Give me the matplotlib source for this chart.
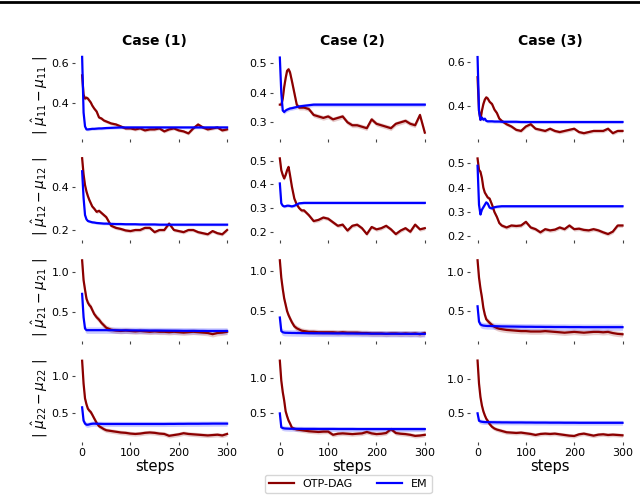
import numpy as np
import matplotlib
matplotlib.use("Agg")
import matplotlib.pyplot as plt
from matplotlib.lines import Line2D

STEPS = [0, 3, 6, 9, 12, 15, 18, 21, 25, 30, 35, 40, 45, 50, 60, 70, 80, 90, 100,
         110, 120, 130, 140, 150, 160, 170, 180, 190, 200, 210, 220, 230, 240, 250,
         260, 270, 280, 290, 300]

CASES = ["Case (1)", "Case (2)", "Case (3)"]
YLABELS = [r"$|\ \hat{\mu}_{11} - \mu_{11}\ |$", r"$|\ \hat{\mu}_{12} - \mu_{12}\ |$",
           r"$|\ \hat{\mu}_{21} - \mu_{21}\ |$", r"$|\ \hat{\mu}_{22} - \mu_{22}\ |$"]
XTICKS = [0, 100, 200, 300]
YTICKS = [[[0.4, 0.6], [0.3, 0.4, 0.5], [0.4, 0.6]],
          [[0.2, 0.4], [0.2, 0.3, 0.4, 0.5], [0.2, 0.3, 0.4, 0.5]],
          [[0.5, 1.0], [0.5, 1.0], [0.5, 1.0]],
          [[0.5, 1.0], [0.5, 1.0], [0.5, 1.0]]]

# OTP-DAG series (rows = parameter, cols = case)
otp_11_c1 = [0.537, 0.44, 0.42, 0.425, 0.42, 0.41, 0.40, 0.385, 0.37, 0.355, 0.325, 0.32, 0.31, 0.305,
             0.295, 0.29, 0.28, 0.27, 0.27, 0.265, 0.27, 0.26, 0.265, 0.265, 0.27, 0.255, 0.265, 0.27,
             0.26, 0.255, 0.245, 0.27, 0.29, 0.275, 0.265, 0.27, 0.275, 0.26, 0.265]
otp_11_c2 = [0.36, 0.36, 0.38, 0.42, 0.45, 0.475, 0.48, 0.47, 0.44, 0.40, 0.36, 0.35, 0.35, 0.35,
             0.345, 0.325, 0.32, 0.315, 0.32, 0.31, 0.315, 0.32, 0.30, 0.29, 0.29, 0.285, 0.28, 0.31,
             0.295, 0.29, 0.285, 0.28, 0.295, 0.30, 0.305, 0.295, 0.29, 0.325, 0.265]
otp_11_c3 = [0.53, 0.38, 0.34, 0.38, 0.41, 0.43, 0.44, 0.435, 0.42, 0.41, 0.385, 0.37, 0.345, 0.335,
             0.32, 0.31, 0.295, 0.29, 0.31, 0.32, 0.30, 0.295, 0.29, 0.30, 0.29, 0.285, 0.29, 0.295,
             0.30, 0.285, 0.28, 0.285, 0.29, 0.29, 0.29, 0.30, 0.28, 0.29, 0.29]
otp_12_c1 = [0.536, 0.46, 0.41, 0.38, 0.358, 0.34, 0.325, 0.31, 0.30, 0.285, 0.29, 0.28, 0.27, 0.26,
             0.22, 0.21, 0.205, 0.198, 0.195, 0.20, 0.20, 0.21, 0.21, 0.19, 0.20, 0.20, 0.23, 0.20,
             0.195, 0.19, 0.20, 0.20, 0.19, 0.185, 0.18, 0.195, 0.185, 0.18, 0.20]
otp_12_c2 = [0.51, 0.46, 0.44, 0.425, 0.44, 0.46, 0.474, 0.44, 0.39, 0.34, 0.315, 0.30, 0.29, 0.29,
             0.27, 0.245, 0.25, 0.26, 0.255, 0.24, 0.225, 0.23, 0.205, 0.225, 0.23, 0.215, 0.19, 0.22,
             0.21, 0.215, 0.225, 0.21, 0.19, 0.205, 0.215, 0.20, 0.23, 0.21, 0.215]
otp_12_c3 = [0.52, 0.473, 0.465, 0.44, 0.40, 0.38, 0.37, 0.36, 0.355, 0.33, 0.30, 0.28, 0.255, 0.245,
             0.237, 0.245, 0.243, 0.245, 0.26, 0.237, 0.23, 0.217, 0.23, 0.225, 0.228, 0.237, 0.23, 0.245,
             0.23, 0.232, 0.227, 0.225, 0.23, 0.225, 0.217, 0.21, 0.22, 0.245, 0.245]
otp_21_c1 = [1.146, 0.90, 0.78, 0.67, 0.62, 0.59, 0.57, 0.53, 0.48, 0.44, 0.41, 0.37, 0.34, 0.31,
             0.285, 0.275, 0.27, 0.275, 0.27, 0.265, 0.27, 0.265, 0.26, 0.265, 0.26, 0.26, 0.255, 0.26,
             0.255, 0.25, 0.255, 0.26, 0.255, 0.25, 0.245, 0.23, 0.245, 0.25, 0.26]
otp_21_c2 = [1.14, 0.92, 0.78, 0.66, 0.58, 0.50, 0.45, 0.41, 0.36, 0.31, 0.285, 0.27, 0.255, 0.25,
             0.24, 0.24, 0.235, 0.235, 0.235, 0.235, 0.23, 0.235, 0.23, 0.23, 0.23, 0.225, 0.225, 0.22,
             0.22, 0.22, 0.215, 0.22, 0.22, 0.215, 0.22, 0.215, 0.22, 0.21, 0.225]
otp_21_c3 = [1.15, 0.93, 0.79, 0.68, 0.545, 0.46, 0.40, 0.38, 0.355, 0.327, 0.305, 0.29, 0.28, 0.275,
             0.265, 0.26, 0.255, 0.25, 0.25, 0.245, 0.245, 0.245, 0.25, 0.245, 0.24, 0.235, 0.23, 0.235,
             0.24, 0.235, 0.23, 0.235, 0.24, 0.24, 0.235, 0.24, 0.225, 0.215, 0.21]
otp_22_c1 = [1.21, 0.90, 0.70, 0.62, 0.56, 0.535, 0.515, 0.48, 0.43, 0.37, 0.325, 0.305, 0.285, 0.27,
             0.26, 0.25, 0.24, 0.235, 0.225, 0.22, 0.225, 0.235, 0.24, 0.235, 0.225, 0.22, 0.195, 0.205,
             0.215, 0.23, 0.22, 0.215, 0.21, 0.205, 0.20, 0.205, 0.21, 0.20, 0.22]
otp_22_c2 = [1.24, 0.96, 0.80, 0.68, 0.53, 0.46, 0.40, 0.36, 0.30, 0.285, 0.275, 0.27, 0.265, 0.26,
             0.25, 0.245, 0.24, 0.245, 0.245, 0.20, 0.215, 0.22, 0.215, 0.21, 0.215, 0.22, 0.24, 0.22,
             0.21, 0.215, 0.225, 0.28, 0.225, 0.215, 0.21, 0.20, 0.185, 0.19, 0.20]
otp_22_c3 = [1.28, 0.94, 0.74, 0.615, 0.53, 0.47, 0.42, 0.39, 0.34, 0.30, 0.275, 0.26, 0.25, 0.24,
             0.22, 0.215, 0.21, 0.215, 0.205, 0.195, 0.18, 0.195, 0.20, 0.195, 0.20, 0.19, 0.18, 0.17,
             0.165, 0.19, 0.20, 0.185, 0.17, 0.185, 0.19, 0.18, 0.185, 0.18, 0.175]

# EM series
em_11_c1 = [0.63, 0.35, 0.28, 0.265, 0.265, 0.266, 0.267, 0.268, 0.268, 0.269, 0.27, 0.27, 0.271, 0.272,
            0.273, 0.274, 0.275, 0.275, 0.275, 0.275, 0.275, 0.275, 0.275, 0.275, 0.275, 0.275, 0.275, 0.275,
            0.275, 0.275, 0.275, 0.275, 0.275, 0.275, 0.275, 0.275, 0.275, 0.275, 0.275]
em_11_c2 = [0.52, 0.40, 0.34, 0.335, 0.34, 0.343, 0.345, 0.347, 0.348, 0.35, 0.352, 0.354, 0.355, 0.356,
            0.358, 0.36, 0.36, 0.36, 0.36, 0.36, 0.36, 0.36, 0.36, 0.36, 0.36, 0.36, 0.36, 0.36,
            0.36, 0.36, 0.36, 0.36, 0.36, 0.36, 0.36, 0.36, 0.36, 0.36, 0.36]
em_11_c3 = [0.62, 0.38, 0.34, 0.35, 0.34, 0.345, 0.335, 0.333, 0.333, 0.333, 0.332, 0.332, 0.332, 0.331,
            0.331, 0.331, 0.331, 0.33, 0.33, 0.33, 0.33, 0.33, 0.33, 0.33, 0.33, 0.33, 0.33, 0.33,
            0.33, 0.33, 0.33, 0.33, 0.33, 0.33, 0.33, 0.33, 0.33, 0.33, 0.33]
em_12_c1 = [0.475, 0.35, 0.27, 0.25, 0.242, 0.24, 0.238, 0.236, 0.235, 0.233, 0.232, 0.231, 0.23, 0.23,
            0.229, 0.228, 0.228, 0.227, 0.227, 0.227, 0.226, 0.226, 0.226, 0.226, 0.225, 0.225, 0.225, 0.225,
            0.225, 0.225, 0.225, 0.225, 0.225, 0.225, 0.225, 0.225, 0.225, 0.225, 0.225]
em_12_c2 = [0.404, 0.32, 0.31, 0.307, 0.308, 0.31, 0.31, 0.309, 0.307, 0.31, 0.315, 0.32, 0.321, 0.322,
            0.322, 0.322, 0.322, 0.322, 0.322, 0.322, 0.322, 0.322, 0.322, 0.322, 0.322, 0.322, 0.322, 0.322,
            0.322, 0.322, 0.322, 0.322, 0.322, 0.322, 0.322, 0.322, 0.322, 0.322, 0.322]
em_12_c3 = [0.49, 0.33, 0.29, 0.31, 0.32, 0.33, 0.34, 0.335, 0.318, 0.315, 0.32, 0.322, 0.323, 0.324,
            0.324, 0.324, 0.324, 0.324, 0.324, 0.324, 0.324, 0.324, 0.324, 0.324, 0.324, 0.324, 0.324, 0.324,
            0.324, 0.324, 0.324, 0.324, 0.324, 0.324, 0.324, 0.324, 0.324, 0.324, 0.324]
em_21_c1 = [0.73, 0.44, 0.30, 0.28, 0.28, 0.28, 0.28, 0.28, 0.28, 0.28, 0.28, 0.28, 0.28, 0.28,
            0.279, 0.279, 0.278, 0.278, 0.277, 0.277, 0.276, 0.276, 0.275, 0.275, 0.275, 0.274, 0.274, 0.273,
            0.273, 0.272, 0.272, 0.272, 0.271, 0.271, 0.27, 0.27, 0.27, 0.27, 0.27]
em_21_c2 = [0.42, 0.25, 0.235, 0.23, 0.228, 0.228, 0.227, 0.227, 0.226, 0.226, 0.225, 0.225, 0.224, 0.224,
            0.223, 0.222, 0.222, 0.221, 0.221, 0.22, 0.22, 0.22, 0.219, 0.219, 0.218, 0.218, 0.218, 0.217,
            0.217, 0.217, 0.216, 0.216, 0.216, 0.216, 0.215, 0.215, 0.215, 0.215, 0.215]
em_21_c3 = [0.565, 0.37, 0.335, 0.325, 0.32, 0.318, 0.316, 0.315, 0.315, 0.314, 0.313, 0.312, 0.311, 0.31,
            0.309, 0.308, 0.307, 0.306, 0.305, 0.305, 0.304, 0.304, 0.303, 0.303, 0.302, 0.302, 0.302, 0.301,
            0.301, 0.301, 0.30, 0.30, 0.30, 0.30, 0.30, 0.30, 0.30, 0.30, 0.30]
em_22_c1 = [0.58, 0.40, 0.36, 0.345, 0.345, 0.35, 0.355, 0.358, 0.36, 0.358, 0.357, 0.356, 0.355, 0.355,
            0.355, 0.355, 0.355, 0.355, 0.355, 0.355, 0.355, 0.355, 0.355, 0.355, 0.355, 0.355, 0.356, 0.356,
            0.357, 0.357, 0.358, 0.358, 0.358, 0.359, 0.359, 0.36, 0.36, 0.36, 0.36]
em_22_c2 = [0.50, 0.305, 0.295, 0.29, 0.288, 0.287, 0.286, 0.285, 0.285, 0.285, 0.284, 0.284, 0.284, 0.283,
            0.283, 0.283, 0.282, 0.282, 0.282, 0.282, 0.281, 0.281, 0.281, 0.281, 0.28, 0.28, 0.28, 0.28,
            0.28, 0.28, 0.28, 0.28, 0.28, 0.28, 0.28, 0.28, 0.28, 0.28, 0.28]
em_22_c3 = [0.50, 0.39, 0.38, 0.375, 0.372, 0.37, 0.37, 0.369, 0.369, 0.368, 0.368, 0.367, 0.367, 0.366,
            0.366, 0.365, 0.365, 0.365, 0.364, 0.364, 0.363, 0.363, 0.363, 0.362, 0.362, 0.362, 0.361, 0.361,
            0.361, 0.36, 0.36, 0.36, 0.36, 0.36, 0.36, 0.36, 0.36, 0.36, 0.36]

OTP = [[otp_11_c1, otp_11_c2, otp_11_c3],
       [otp_12_c1, otp_12_c2, otp_12_c3],
       [otp_21_c1, otp_21_c2, otp_21_c3],
       [otp_22_c1, otp_22_c2, otp_22_c3]]
EM = [[em_11_c1, em_11_c2, em_11_c3],
      [em_12_c1, em_12_c2, em_12_c3],
      [em_21_c1, em_21_c2, em_21_c3],
      [em_22_c1, em_22_c2, em_22_c3]]

# half-width of shaded deviation band per row
OTP_BAND = [0.008, 0.008, 0.035, 0.03]
EM_BAND = [0.007, 0.006, 0.04, 0.035]

RED = "#8b0000"
BLUE = "#0000ff"

fig, axes = plt.subplots(4, 3, figsize=(6.4, 5.0), dpi=100)
fig.subplots_adjust(left=0.117, right=0.984, top=0.897, bottom=0.116,
                    wspace=0.24, hspace=0.155)

x = np.array(STEPS)
for r in range(4):
    for c in range(3):
        ax = axes[r, c]
        o = np.array(OTP[r][c])
        e = np.array(EM[r][c])
        ax.fill_between(x, o - OTP_BAND[r], o + OTP_BAND[r], color=RED, alpha=0.2, lw=0)
        ax.fill_between(x, e - EM_BAND[r], e + EM_BAND[r], color=BLUE, alpha=0.2, lw=0)
        ax.plot(x, o, color=RED, lw=1.6, label="OTP-DAG")
        ax.plot(x, e, color=BLUE, lw=1.6, label="EM")
        for s in ax.spines.values():
            s.set_visible(False)
        ax.set_xticks(XTICKS)
        ax.set_yticks(YTICKS[r][c])
        ax.tick_params(length=2.5, width=0.8, color="#444444", labelsize=8, pad=1.5)
        if r < 3:
            ax.set_xticklabels([])
        else:
            ax.set_xlabel("steps", fontsize=10.5, labelpad=1)
        if c == 0:
            ax.set_ylabel(YLABELS[r], fontsize=10, labelpad=1)
        if r == 0:
            ax.set_title(CASES[c], fontsize=10, fontweight="bold", pad=5)

handles, labels = axes[3, 1].get_legend_handles_labels()
fig.legend(handles, labels, loc="lower center", ncol=2, fontsize=8,
           bbox_to_anchor=(0.544, 0.002), frameon=True, handlelength=2.2,
           handletextpad=0.8, columnspacing=2.2, borderpad=0.4, edgecolor="#cccccc")

fig.add_artist(Line2D([0, 1], [0.997, 0.997], transform=fig.transFigure,
                      color="black", lw=2))

fig.savefig("out.png", dpi=100)
